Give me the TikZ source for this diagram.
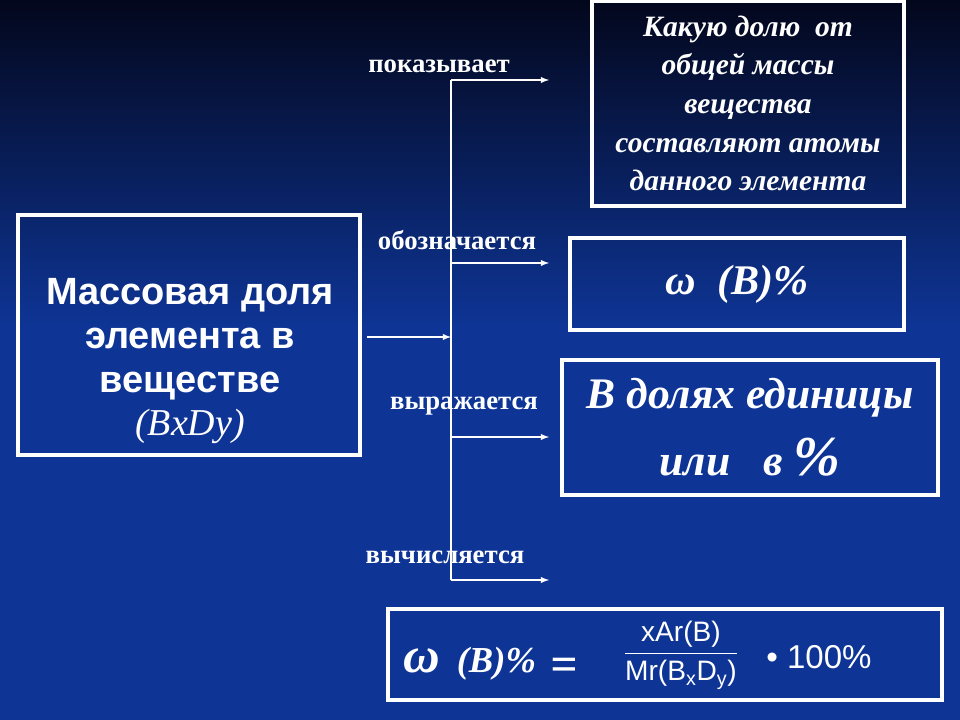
\documentclass[tikz,border=0pt]{standalone}
\usepackage{amsmath}
\usepackage{fontspec}
\setmainfont{Liberation Serif}
\setsansfont{Liberation Sans}
\usepackage{tikz}
\usepackage{xcolor}
\usetikzlibrary{positioning}

\definecolor{navytop}{RGB}{3,7,28}
\definecolor{navymid}{RGB}{9,36,112}
\definecolor{navybot}{RGB}{14,53,150}

\tikzset{
  frame/.style={draw=white, line width=2.4pt, text=white, align=center, inner sep=0pt},
  tag/.style={text=white, font=\bfseries\fontsize{19}{21}\selectfont},
  link/.style={draw=white, line width=1pt},
}

\begin{document}
\begin{tikzpicture}[x=0.025cm,y=-0.025cm]
\fill [navybot] (0,0) rectangle (960,720);
\shade [top color=navytop, middle color=navymid, bottom color=navybot] (0,0) rectangle (960,330);
\useasboundingbox (0,0) rectangle (960,720);

% left box
\node [frame, minimum width=8.55cm, minimum height=6cm] (massbox) at (189,335) {};
\node [text=white, align=center, font=\sffamily\bfseries\fontsize{27}{31.5}\selectfont] (mass) at (190,361)
  {Массовая доля\\элемента в\\веществе\\[-1pt]{\rmfamily\mdseries\itshape (BxDy)}};

% right boxes
\node [frame, minimum width=7.8cm, minimum height=5.125cm,
  font=\bfseries\itshape\fontsize{21}{27.5}\selectfont] (share) at (748,103.5)
  {Какую долю \ от\\общей массы\\вещества\\составляют атомы\\данного элемента};
\node [frame, minimum width=8.35cm, minimum height=2.3cm,
  font=\bfseries\itshape\fontsize{30}{34}\selectfont] (symbol) at (737,284) {\raisebox{-5pt}{ω \ (B)\%}};
\node [frame, minimum width=9.4cm, minimum height=3.375cm,
  font=\bfseries\itshape\fontsize{31}{47.6}\selectfont] (units) at (750,427.5)
  {В долях единицы\\или \ \ в {\fontsize{40}{44}\selectfont\%}};

% formula box
\node [frame, minimum width=13.85cm, minimum height=2.275cm] (calc) at (665,654.5) {};
\node [text=white, anchor=base west, inner sep=0pt, font=\bfseries\itshape] (calcl) at (403,672)
  {{\fontsize{36}{38}\selectfont ω}\hspace{12pt}{\fontsize{26}{28}\selectfont (B)\%}\hspace{10pt}{\fontsize{34}{36}\selectfont\raisebox{-6pt}{=}}};
\node [text=white, font=\sffamily\fontsize{20}{24}\selectfont] (frac) at (681,655)
  {$\displaystyle\frac{\textsf{xAr(B)}}{\textsf{Mr(B$_{\textsf{x}}$D$_{\textsf{y}}$)}}$};
\node [text=white, anchor=base west, inner sep=0pt, font=\sffamily\fontsize{23.5}{26}\selectfont] (pct) at (766,668) {\textbullet\ 100\%};

% connectors
\coordinate (hubtop) at (451,80);
\coordinate (hubbot) at (451,580);
\coordinate (hubin) at (451,337);
\coordinate (feed) at (367,337);
\coordinate (br1) at (451,80);   \coordinate (end1) at (549,80);
\coordinate (br2) at (451,263);  \coordinate (end2) at (549,263);
\coordinate (br3) at (451,437);  \coordinate (end3) at (549,437);
\coordinate (br4) at (451,580);  \coordinate (end4) at (549,580);

\draw [link] (hubtop) -- (hubbot);
\draw [link,-latex] (feed) -- (hubin);
\foreach \i in {1,...,4}
  \draw [link,-latex] (br\i) -- (end\i);

% labels
\node [tag] (shows) at (439,66) {показывает};
\node [tag] (denotes) at (457,240) {обозначается};
\node [tag] (expressed) at (464,406) {выражается};
\node [tag] (computed) at (445,557) {вычисляется};
\end{tikzpicture}
\end{document}
